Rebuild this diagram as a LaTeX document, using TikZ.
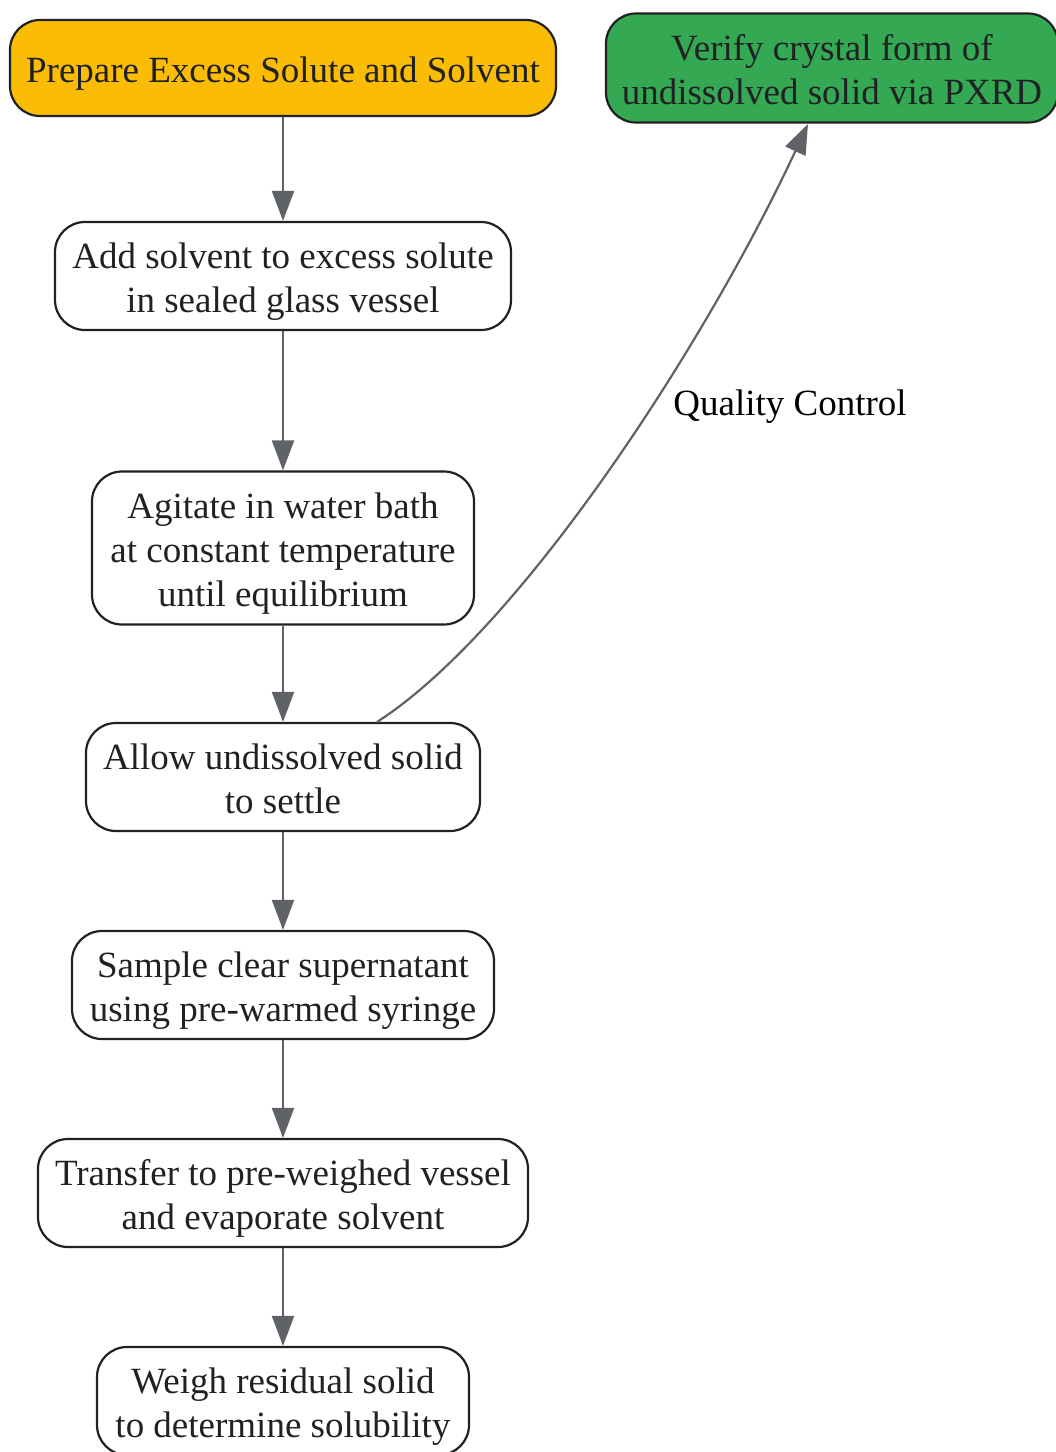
\documentclass[tikz,border=0pt]{standalone}
\usepackage{fontspec}
\setmainfont{Liberation Serif}
\usetikzlibrary{arrows.meta}
\definecolor{inkgray}{HTML}{202124}
\definecolor{linegray}{HTML}{5F6368}
\definecolor{startgold}{HTML}{FBBC05}
\definecolor{checkgreen}{HTML}{34A853}
% strut so that every line box has the same ascent and descent
\newcommand\lns{\rule[-8pt]{0pt}{44pt}}
\tikzset{
  boxfont/.style={font=\fontsize{37}{44}\selectfont},
  stepbox/.style={rectangle,rounded corners=30pt,draw=inkgray,line width=2.2pt,
    text=inkgray,align=center,boxfont,minimum height=108pt,inner sep=0pt},
  flow/.style={color=linegray,line width=2.2pt,-{Triangle[length=30pt,width=22pt]}}
}
\begin{document}
\begin{tikzpicture}[x=1pt,y=-1pt]
	\useasboundingbox (0,0) rectangle (1056,1452);
	\begin{scope}[every node/.style={stepbox}]
	\node[fill=startgold,minimum width=546pt,minimum height=96pt] (prep) at (283, 68) {\lns Prepare Excess Solute and Solvent\lns};
	\node[fill=checkgreen,minimum width=452pt,minimum height=109pt] (pxrd) at (832, 68) {\lns Verify crystal form of\\undissolved solid via PXRD\lns};

	\node[minimum width=456pt] (add) at (283, 276) {\lns Add solvent to excess solute\\in sealed glass vessel\lns};
	\node[minimum width=382pt,minimum height=153pt] (agit) at (283, 548) {\lns Agitate in water bath\\at constant temperature\\until equilibrium\lns};
	\node[minimum width=394pt] (settle) at (283, 777) {\lns Allow undissolved solid\\to settle\lns};
	\node[minimum width=422pt] (sample) at (283, 985) {\lns Sample clear supernatant\\using pre-warmed syringe\lns};
	\node[minimum width=490pt] (transfer) at (283, 1193) {\lns Transfer to pre-weighed vessel\\and evaporate solvent\lns};
	\node[minimum width=372pt] (weigh) at (283, 1401) {\lns Weigh residual solid\\to determine solubility\lns};
	\end{scope}

	\path [flow] (prep) edge (add);
	\path [flow] (add) edge (agit);
	\path [flow] (agit) edge (settle);
	\path [flow] (settle) edge (sample);
	\path [flow] (sample) edge (transfer);
	\path [flow] (transfer) edge (weigh);

	% quality check branch
	\coordinate (qcstart) at (377, 722);
	\coordinate (qcend) at (808, 124);
	\draw [flow] (qcstart) .. controls (520,630) and (705,345) .. (qcend);
	\node[boxfont,text=black,inner sep=0pt] (qc) at (790, 401) {\lns Quality Control\lns};
\end{tikzpicture}
\end{document}
